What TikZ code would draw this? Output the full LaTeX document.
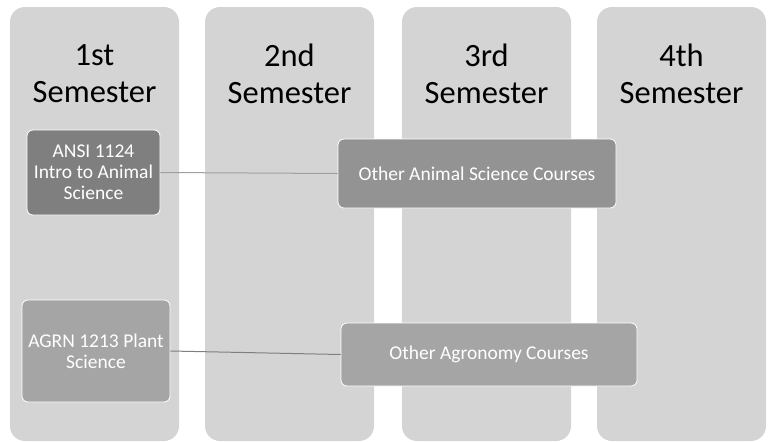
\documentclass[tikz,border=0pt]{standalone}
\usepackage{fontspec}
\setmainfont{Carlito}
\definecolor{colgray}{HTML}{D4D4D4}
\definecolor{introgray}{HTML}{7F7F7F}
\definecolor{othergray}{HTML}{939393}
\definecolor{agrgray}{HTML}{A5A5A5}
\definecolor{linkgray}{HTML}{A0A0A0}
\definecolor{linkdark}{HTML}{7F7F7F}

\begin{document}
\begin{tikzpicture}[x=1pt,y=-1pt,
    semcol/.style={fill=colgray, rounded corners=15pt},
    semtitle/.style={align=center, font=\fontsize{32.5}{37}\selectfont, text=black, inner sep=0pt},
    course/.style={draw=white, line width=0.8pt, rounded corners=6pt, text=white,
      align=center, inner sep=0pt, font=\fontsize{19.5}{21}\selectfont}]
    \useasboundingbox (0,0) rectangle (770,442);

    % Semester columns
    \foreach \x/\name in {10/1st, 205/2nd, 402/3rd, 597/4th}{
        \fill[semcol] (\x,7) rectangle ++(169,434);
        \node[semtitle] (title\name) at (\x+84.5,73.5) {\name\\Semester};
    }

    % Courses
    \node[course, fill=introgray, minimum width=133pt, minimum height=85pt]
        (ansi) at (93.5,172.5) {ANSI 1124\\Intro to Animal\\Science};
    \node[course, fill=othergray, minimum width=278pt, minimum height=69pt]
        (othani) at (477,173.5) {Other Animal Science Courses};
    \node[course, fill=agrgray, minimum width=148pt, minimum height=102pt]
        (agrn) at (96,351) {AGRN 1213 Plant\\Science};
    \node[course, fill=agrgray, minimum width=296pt, minimum height=63pt]
        (othagr) at (489,354.5) {Other Agronomy Courses};

    % Links
    \draw[linkgray, line width=1pt] (ansi.east) -- (othani.west);
    \draw[linkdark, line width=1pt] (agrn.east) -- (othagr.west);
\end{tikzpicture}
\end{document}
